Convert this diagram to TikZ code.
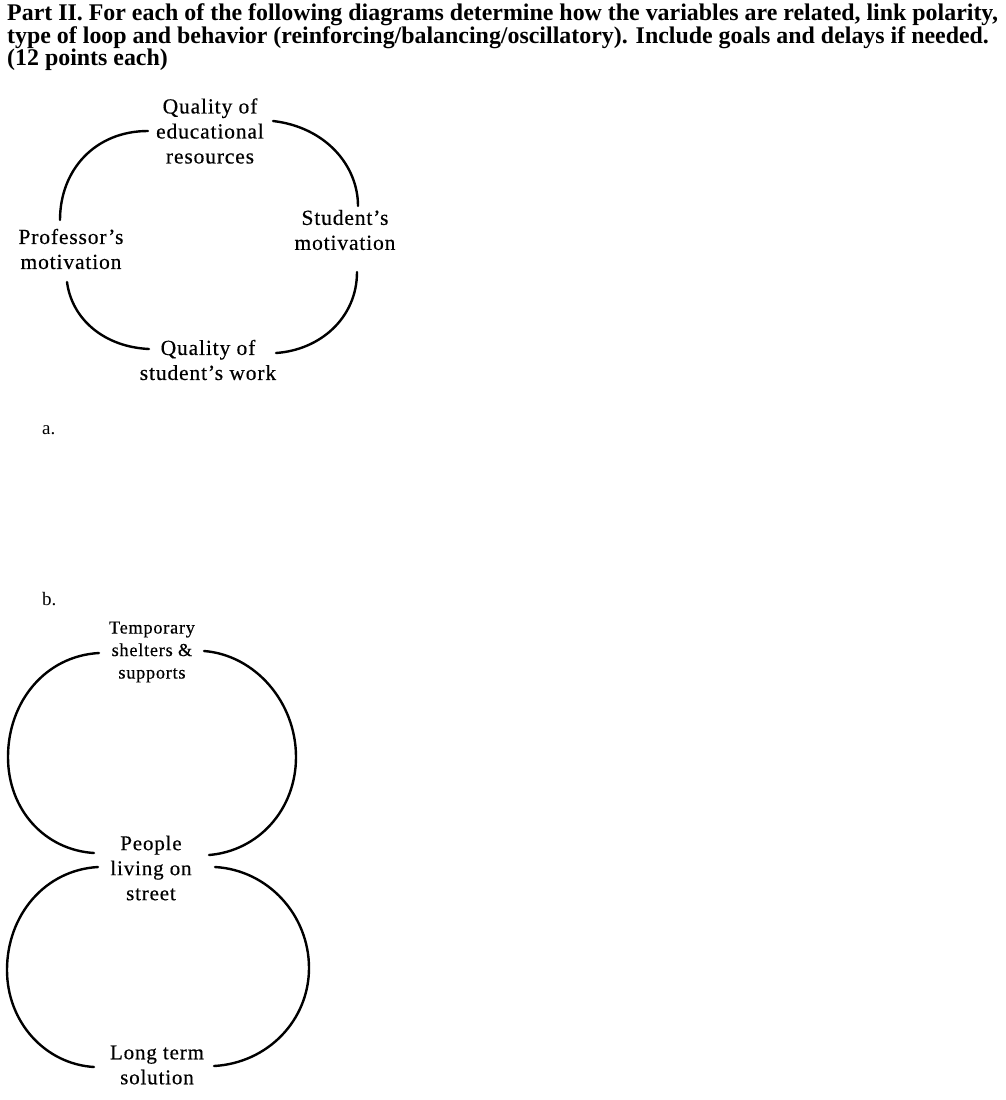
\documentclass[tikz,border=0pt]{standalone}
\usepackage{fontspec}
\setmainfont{Liberation Serif}
\newfontfamily\lblfont[LetterSpace=4,FakeBold=0.4]{Liberation Serif}
\begin{document}
\begin{tikzpicture}[x=1pt,y=-1pt,
  head/.style={anchor=base west,inner sep=0pt,font=\fontsize{23.9}{26}\selectfont\bfseries},
  var/.style={align=center,inner sep=0pt,font=\lblfont\fontsize{21.5}{25}\selectfont},
  varb/.style={align=center,inner sep=0pt,font=\lblfont\fontsize{21}{25}\selectfont},
  varsm/.style={align=center,inner sep=0pt,font=\lblfont\fontsize{18.3}{22.5}\selectfont},
  item/.style={anchor=base west,inner sep=0pt,font=\fontsize{19}{23}\selectfont},
  link/.style={line width=2.4pt,line cap=round}]
\useasboundingbox (0,0) rectangle (1005,1100);
\fill[white] (0,0) rectangle (1005,1100);
% heading
\node[head] (h1) at (7,20) {Part II. For each of the following diagrams determine how the variables are related, link polarity,};
\node[head] (h2) at (7,43) {type of loop and behavior (reinforcing/balancing/oscillatory). Include goals and delays if needed.};
\node[head] (h3) at (7,65) {(12 points each)};
% diagram a
\node[var] (qer) at (210,131) {Quality of\\educational\\resources};
\node[var] (sm) at (345,230) {Student’s\\motivation};
\node[var] (pm) at (71,249) {Professor’s\\motivation};
\node[var] (qsw) at (208,360) {Quality of\\student’s work};
\node[item] (la) at (42,434) {a.};
\node[item] (lb) at (42,605) {b.};
\coordinate (a1s) at (148,131); \coordinate (a1e) at (60,220);
\coordinate (a2s) at (273,121); \coordinate (a2e) at (358,206);
\coordinate (a3s) at (357,272); \coordinate (a3e) at (276,353);
\coordinate (a4s) at (67,282);  \coordinate (a4e) at (149,349);
\draw[link] (a1s) .. controls (95,131) and (60,170) .. (a1e);
\draw[link] (a2s) .. controls (325,127) and (358,165) .. (a2e);
\draw[link] (a3s) .. controls (357,318) and (320,350) .. (a3e);
\draw[link] (a4s) .. controls (72,320) and (105,347) .. (a4e);
% diagram b
\node[varsm] (tss) at (152,652) {Temporary\\shelters \&\\supports};
\node[varb] (pls) at (151,868) {People\\living on\\street};
\node[varb] (lts) at (157,1065) {Long term\\solution};
\coordinate (b1s) at (99,653);  \coordinate (b1e) at (94,853);
\coordinate (b2s) at (204,651); \coordinate (b2e) at (209,855);
\coordinate (b3s) at (98,867);  \coordinate (b3e) at (94,1067);
\coordinate (b4s) at (215,867); \coordinate (b4e) at (214,1066);
\draw[link] (b1s) .. controls (45,656) and (8,702) .. (8,757) .. controls (8,810) and (45,850) .. (b1e);
\draw[link] (b2s) .. controls (255,655) and (296,702) .. (296,757) .. controls (296,810) and (258,851) .. (b2e);
\draw[link] (b3s) .. controls (45,870) and (7,915) .. (7,970) .. controls (7,1022) and (45,1064) .. (b3e);
\draw[link] (b4s) .. controls (268,870) and (309,915) .. (309,968) .. controls (309,1020) and (268,1063) .. (b4e);
\end{tikzpicture}
\end{document}
